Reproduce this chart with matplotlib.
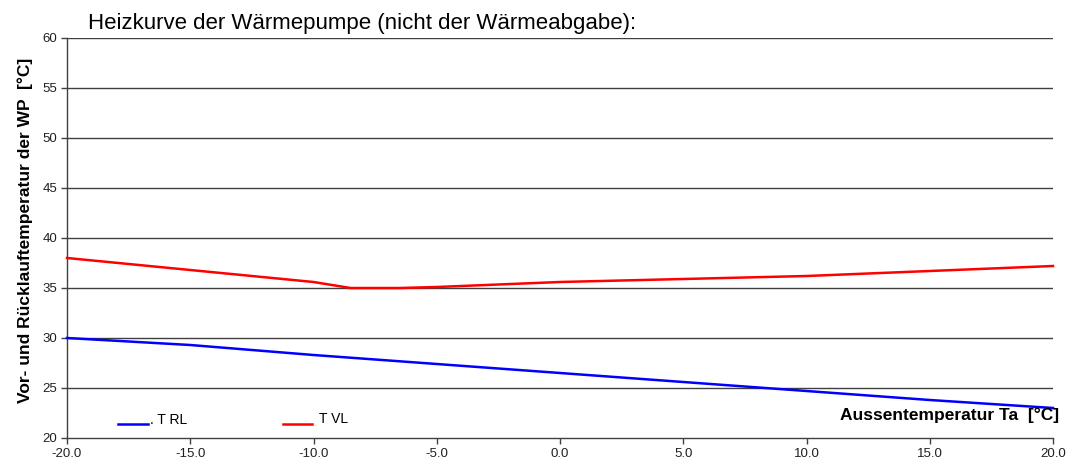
import matplotlib
matplotlib.use("Agg")
import matplotlib.pyplot as plt
from matplotlib.lines import Line2D

plt.rcParams['font.family'] = ['Liberation Sans', 'DejaVu Sans']

# Outdoor temperature grid and curves
ta_vl = [-20, -15, -10, -8.5, -6.5, -5, 0, 5, 10, 15, 20]
t_vl = [38.0, 36.8, 35.6, 35.0, 35.0, 35.1, 35.6, 35.9, 36.2, 36.7, 37.2]

ta_rl = [-20, -15, -10, -5, 0, 5, 10, 15, 20]
t_rl = [30.0, 29.3, 28.3, 27.4, 26.5, 25.6, 24.7, 23.8, 23.0]

x_ticks = [-20, -15, -10, -5, 0, 5, 10, 15, 20]
y_ticks = [20, 25, 30, 35, 40, 45, 50, 55, 60]

W, H = 1076, 462
fig = plt.figure(figsize=(W / 100, H / 100), dpi=100)
ax = fig.add_axes([67 / W, 1 - 438 / H, (1053 - 67) / W, (438 - 38) / H])

ax.set_xlim(-20, 20)
ax.set_ylim(20, 60)
ax.set_xticks(x_ticks)
ax.set_xticklabels([f"{v:.1f}" for v in x_ticks])
ax.set_yticks(y_ticks)
ax.set_yticklabels([str(v) for v in y_ticks])
ax.tick_params(labelsize=9.5, length=4, width=1, color='#404040', labelcolor='#202020', pad=3)

for y in y_ticks[1:]:
    ax.axhline(y, color='#404040', lw=1.0, zorder=1)

for s in ['top', 'right']:
    ax.spines[s].set_visible(False)
for s in ['left', 'bottom']:
    ax.spines[s].set_color('#404040')
    ax.spines[s].set_linewidth(1.0)

ax.plot(ta_rl, t_rl, color='#0000ff', lw=1.8, zorder=3, clip_on=False)
ax.plot(ta_vl, t_vl, color='#ff0000', lw=1.8, zorder=3, clip_on=False)

# Title and axis labels
fig.text(88 / W, 1 - 24 / H, "Heizkurve der Wärmepumpe (nicht der Wärmeabgabe):",
         fontsize=16, va='center', ha='left', color='black')
fig.text(25 / W, 1 - 230 / H, "Vor- und Rücklauftemperatur der WP  [°C]",
         fontsize=12.5, fontweight='bold', rotation=90, va='center', ha='center')
fig.text(1059 / W, 1 - 415 / H, "Aussentemperatur Ta  [°C]",
         fontsize=12.5, fontweight='bold', va='center', ha='right')

# Legend entries
fig.add_artist(Line2D([118 / W, 148 / W], [1 - 424 / H, 1 - 424 / H], color='#0000ff', lw=1.8))
fig.text(150 / W, 1 - 420 / H, ". T RL", fontsize=10, va='center', ha='left')
fig.add_artist(Line2D([283 / W, 312 / W], [1 - 424 / H, 1 - 424 / H], color='#ff0000', lw=1.8))
fig.text(319 / W, 1 - 419 / H, "T VL", fontsize=10, va='center', ha='left')

fig.savefig("out.png", dpi=100)
